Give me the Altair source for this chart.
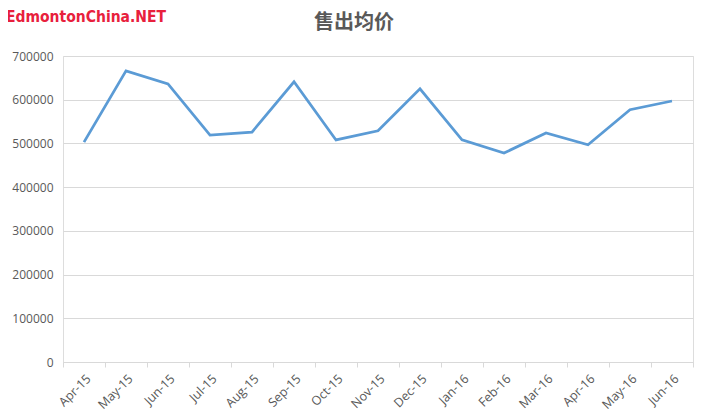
import altair as alt
import pandas as pd

months = ["Apr-15", "May-15", "Jun-15", "Jul-15", "Aug-15", "Sep-15", "Oct-15",
          "Nov-15", "Dec-15", "Jan-16", "Feb-16", "Mar-16", "Apr-16", "May-16", "Jun-16"]
prices = [503000, 666000, 636000, 519000, 526000, 641000, 508000,
          529000, 625000, 508000, 478000, 524000, 497000, 577000, 597000]
y_ticks = [0, 100000, 200000, 300000, 400000, 500000, 600000, 700000]

title_text = "售出均价"
watermark_text = "EdmontonChina.NET"

df = pd.DataFrame({"month": months, "price": prices})

base = alt.Chart(df)

line = base.mark_line(color="#5B9BD5", strokeWidth=2.75).encode(
    x=alt.X("month:N", sort=months, bandPosition=0.5,
            scale=alt.Scale(type="band", paddingInner=0, paddingOuter=0),
            axis=alt.Axis(title=None, labelAngle=-45, tickBand="extent",
                          domainColor="#d9d9d9", tickColor="#d9d9d9", tickSize=5,
                          labelColor="#595959", labelFontSize=12.5, labelFont="Open Sans",
                          labelPadding=5, grid=False)),
    y=alt.Y("price:Q", scale=alt.Scale(domain=[0, 700000]),
            axis=alt.Axis(title=None, values=y_ticks,
                          format="d", domain=False, ticks=False, gridColor="#d9d9d9",
                          labelColor="#595959", labelFontSize=12, labelFont="Open Sans",
                          labelPadding=10)),
)

title = alt.Chart(pd.DataFrame({"t": [title_text]})).mark_text(
    font="Noto Sans CJK SC", fontSize=20, fontWeight="bold", color="#595959",
    align="center", baseline="alphabetic"
).encode(text="t:N", x=alt.value(291), y=alt.value(-27))

wm = alt.Chart(pd.DataFrame({"t": [watermark_text]})).mark_text(
    font="DejaVu Sans Condensed, Liberation Sans", fontWeight="bold", fontSize=15.5,
    color="#E8203C", align="left", baseline="alphabetic"
).encode(text="t:N", x=alt.value(-57), y=alt.value(-34))

chart = alt.layer(line, title, wm).properties(
    width=630, height=306,
    autosize=alt.AutoSizeParams(type="none"),
    padding={"left": 55, "top": 48, "right": 5, "bottom": 50},
).configure_view(stroke=None).configure(background="white")

chart.save("out.html", embed_options={"renderer": "svg", "actions": False})
